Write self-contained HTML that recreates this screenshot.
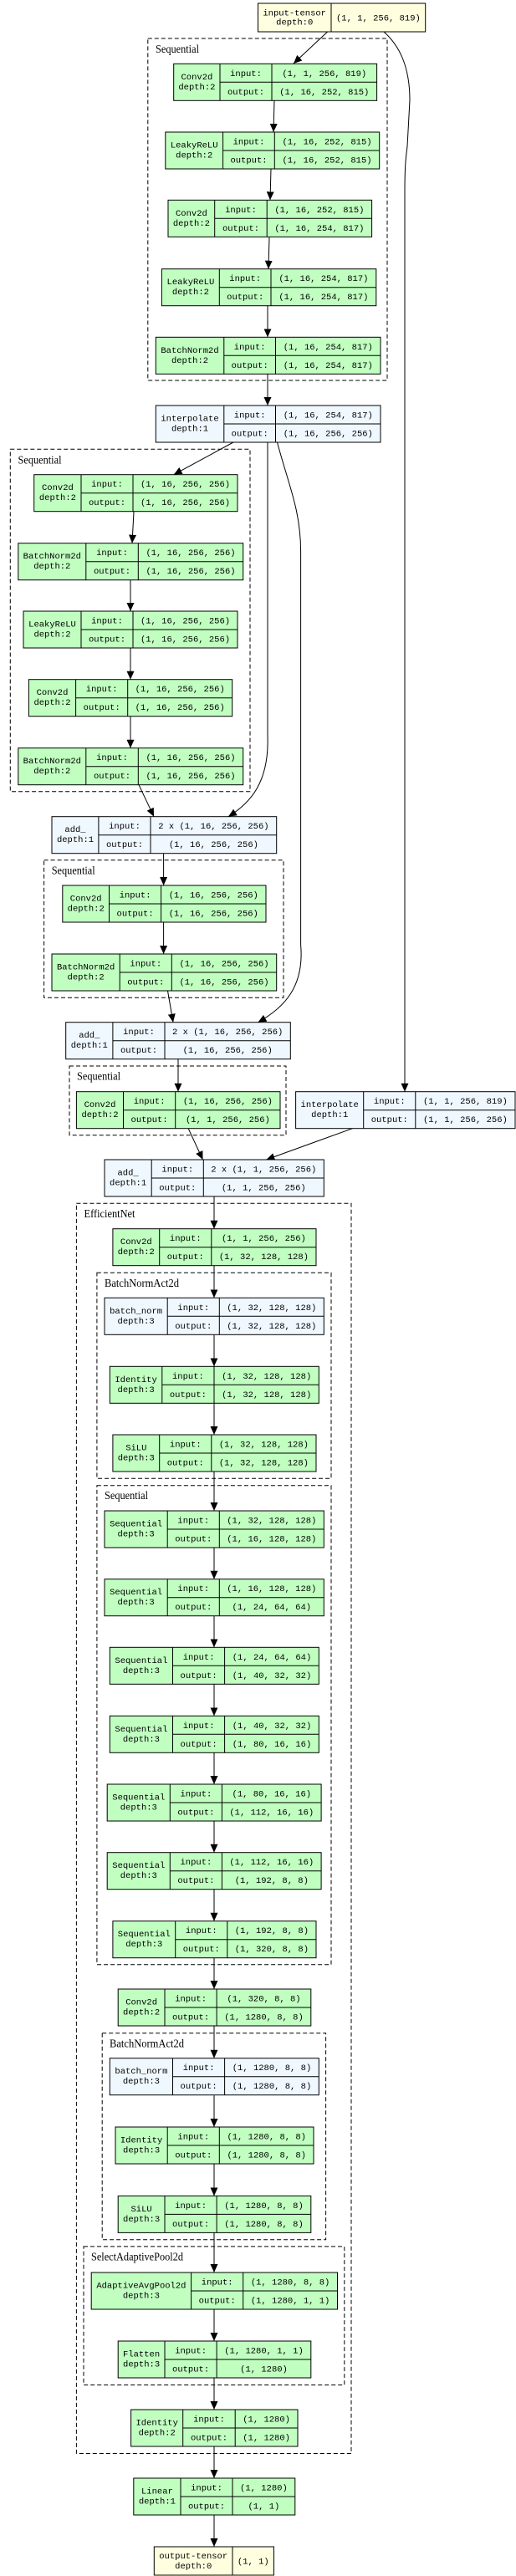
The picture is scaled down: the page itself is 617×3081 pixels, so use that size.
<!DOCTYPE html>
<html><head><meta charset="utf-8"><style>
html,body{margin:0;padding:0;background:#fff}
svg{display:block}
.t{font-family:"Liberation Mono",monospace;font-size:10.5px;text-anchor:middle;fill:#000}
.c{font-family:"Liberation Serif",serif;font-size:14px;fill:#000}
.cl{fill:none;stroke:#000;stroke-dasharray:5,3;stroke-width:1}
.g{fill:#c1ffc1;stroke:#000}
.b{fill:#f0f8ff;stroke:#000}
.y{fill:#ffffe0;stroke:#000}
.l{stroke:#000;stroke-width:1}
.e{stroke:#000;stroke-width:1;fill:none;marker-end:url(#a)}
</style></head><body>
<svg width="617" height="3081" viewBox="0 0 617 3081" xmlns="http://www.w3.org/2000/svg">
<defs><marker id="a" markerWidth="10" markerHeight="10" refX="10" refY="4.5" orient="auto" markerUnits="userSpaceOnUse"><path d="M0,0L10,4.5L0,9z" fill="#000"/></marker></defs>

<!-- clusters -->
<rect class="cl" x="176.8" y="46" width="286.2" height="409"/><text class="c" x="186" y="63" textLength="52" lengthAdjust="spacingAndGlyphs">Sequential</text>
<rect class="cl" x="12.3" y="537.3" width="286.7" height="409.4"/><text class="c" x="21.5" y="554.5" textLength="52" lengthAdjust="spacingAndGlyphs">Sequential</text>
<rect class="cl" x="52.6" y="1028.7" width="286.4" height="164.6"/><text class="c" x="61.7" y="1045.5" textLength="52" lengthAdjust="spacingAndGlyphs">Sequential</text>
<rect class="cl" x="83" y="1275" width="259" height="82.7"/><text class="c" x="92" y="1291.5" textLength="52" lengthAdjust="spacingAndGlyphs">Sequential</text>
<rect class="cl" x="91.4" y="1439.3" width="328.6" height="1495.2"/><text class="c" x="100.5" y="1456" textLength="61" lengthAdjust="spacingAndGlyphs">EfficientNet</text>
<rect class="cl" x="115.9" y="1522.3" width="280.1" height="246"/><text class="c" x="125" y="1539" textLength="89" lengthAdjust="spacingAndGlyphs">BatchNormAct2d</text>
<rect class="cl" x="115.9" y="1776.7" width="280.1" height="573"/><text class="c" x="125" y="1793" textLength="52" lengthAdjust="spacingAndGlyphs">Sequential</text>
<rect class="cl" x="122.2" y="2431.7" width="267.4" height="247.1"/><text class="c" x="131" y="2448.5" textLength="89" lengthAdjust="spacingAndGlyphs">BatchNormAct2d</text>
<rect class="cl" x="100" y="2686.9" width="311.8" height="165.6"/><text class="c" x="109" y="2703.5" textLength="110" lengthAdjust="spacingAndGlyphs">SelectAdaptivePool2d</text>

<!-- edges -->
<path class="e" d="M391.6,38 L351,76"/>
<path class="e" d="M459,38 C478,55 490,80 490,120 L487,175 C485,190 484,200 484,230 L484,1305.7"/>
<path class="e" d="M328,120.3 L327,158"/>
<path class="e" d="M324,202 L323,239.3"/>
<path class="e" d="M322,284 L321,321.7"/>
<path class="e" d="M320,365.3 L320,403.3"/>
<path class="e" d="M320,447 L320,485"/>
<path class="e" d="M279,529 L207.7,567.7"/>
<path class="e" d="M160,612 L158,649.7"/>
<path class="e" d="M156,693.3 L156,731"/>
<path class="e" d="M156,775.3 L156,812.7"/>
<path class="e" d="M156,857 L156,894.7"/>
<path class="e" d="M166,938.7 L184,976.7"/>
<path class="e" d="M320,529 L320,880 C322,935 300,960 273,976.7"/>
<path class="e" d="M331.5,529 C345,580 359.6,610 359.6,660 L359.6,1130 C364,1180 340,1205 308.5,1222.7"/>
<path class="e" d="M195.6,1020.3 L195.6,1059"/>
<path class="e" d="M195.6,1103.3 L195.6,1141"/>
<path class="e" d="M200.5,1185 L207,1222.7"/>
<path class="e" d="M213,1266.3 L213,1305.7"/>
<path class="e" d="M225,1349.3 L242.5,1387"/>
<path class="e" d="M422.5,1349.3 L318.4,1387"/>
<path class="e" d="M256,1431 V1469.7"/>
<path class="e" d="M256,1514 V1552.3"/>
<path class="e" d="M256,1596.7 V1634.3"/>
<path class="e" d="M256,1678.3 V1716"/>
<path class="e" d="M256,1760 V1807"/>
<path class="e" d="M256,1851 V1888.7"/>
<path class="e" d="M256,1933 V1970.3"/>
<path class="e" d="M256,2014.3 V2052.3"/>
<path class="e" d="M256,2096.3 V2134"/>
<path class="e" d="M256,2178.3 V2215.7"/>
<path class="e" d="M256,2260 V2297.7"/>
<path class="e" d="M256,2341.3 V2379"/>
<path class="e" d="M256,2423.3 V2461.7"/>
<path class="e" d="M256,2506.2 V2544"/>
<path class="e" d="M256,2588.2 V2626.4"/>
<path class="e" d="M256,2670.3 V2718"/>
<path class="e" d="M256,2762 V2800"/>
<path class="e" d="M256,2844 V2882"/>
<path class="e" d="M256,2926.5 V2964"/>
<path class="e" d="M256,3008.5 V3046"/>

<!-- 1 input-tensor -->
<rect class="y" x="308.5" y="4" width="200.2" height="34"/><line class="l" x1="396" y1="4" x2="396" y2="38"/>
<text class="t" x="352.2" y="18.5">input-tensor</text><text class="t" x="352.2" y="29.5">depth:0</text><text class="t" x="452.4" y="24.5">(1, 1, 256, 819)</text>

<!-- 2 -->
<rect class="g" x="207.7" y="76.3" width="242.9" height="44"/><line class="l" x1="263" y1="76.3" x2="263" y2="120.3"/><line class="l" x1="325" y1="76.3" x2="325" y2="120.3"/><line class="l" x1="263" y1="98.3" x2="450.6" y2="98.3"/>
<text class="t" x="235.4" y="94.8">Conv2d</text><text class="t" x="235.4" y="106.8">depth:2</text><text class="t" x="294" y="90.8">input:</text><text class="t" x="294" y="112.8">output:</text><text class="t" x="387.8" y="90.8">(1, 1, 256, 819)</text><text class="t" x="387.8" y="112.8">(1, 16, 252, 815)</text>
<!-- 3 -->
<rect class="g" x="197.8" y="158" width="255.9" height="44"/><line class="l" x1="266.6" y1="158" x2="266.6" y2="202"/><line class="l" x1="328.3" y1="158" x2="328.3" y2="202"/><line class="l" x1="266.6" y1="180" x2="453.7" y2="180"/>
<text class="t" x="232.2" y="176.5">LeakyReLU</text><text class="t" x="232.2" y="188.5">depth:2</text><text class="t" x="297.5" y="172.5">input:</text><text class="t" x="297.5" y="194.5">output:</text><text class="t" x="391" y="172.5">(1, 16, 252, 815)</text><text class="t" x="391" y="194.5">(1, 16, 252, 815)</text>
<!-- 4 -->
<rect class="g" x="201" y="239.3" width="243.6" height="44"/><line class="l" x1="256.7" y1="239.3" x2="256.7" y2="283.3"/><line class="l" x1="319.2" y1="239.3" x2="319.2" y2="283.3"/><line class="l" x1="256.7" y1="261.3" x2="444.6" y2="261.3"/>
<text class="t" x="228.9" y="257.8">Conv2d</text><text class="t" x="228.9" y="269.8">depth:2</text><text class="t" x="288" y="253.8">input:</text><text class="t" x="288" y="275.8">output:</text><text class="t" x="381.9" y="253.8">(1, 16, 252, 815)</text><text class="t" x="381.9" y="275.8">(1, 16, 254, 817)</text>
<!-- 5 -->
<rect class="g" x="193.4" y="321.7" width="256.4" height="44"/><line class="l" x1="262.3" y1="321.7" x2="262.3" y2="365.7"/><line class="l" x1="324" y1="321.7" x2="324" y2="365.7"/><line class="l" x1="262.3" y1="343.7" x2="449.8" y2="343.7"/>
<text class="t" x="227.9" y="340.2">LeakyReLU</text><text class="t" x="227.9" y="352.2">depth:2</text><text class="t" x="293.2" y="336.2">input:</text><text class="t" x="293.2" y="358.2">output:</text><text class="t" x="386.9" y="336.2">(1, 16, 254, 817)</text><text class="t" x="386.9" y="358.2">(1, 16, 254, 817)</text>
<!-- 6 -->
<rect class="g" x="186.3" y="403.3" width="268.7" height="44"/><line class="l" x1="267.8" y1="403.3" x2="267.8" y2="447.3"/><line class="l" x1="329.5" y1="403.3" x2="329.5" y2="447.3"/><line class="l" x1="267.8" y1="425.3" x2="455" y2="425.3"/>
<text class="t" x="227" y="421.8">BatchNorm2d</text><text class="t" x="227" y="433.8">depth:2</text><text class="t" x="298.7" y="417.8">input:</text><text class="t" x="298.7" y="439.8">output:</text><text class="t" x="392.3" y="417.8">(1, 16, 254, 817)</text><text class="t" x="392.3" y="439.8">(1, 16, 254, 817)</text>
<!-- 7 interpolate -->
<rect class="b" x="186.3" y="485" width="268.7" height="44"/><line class="l" x1="267.8" y1="485" x2="267.8" y2="529"/><line class="l" x1="329.5" y1="485" x2="329.5" y2="529"/><line class="l" x1="267.8" y1="507" x2="455" y2="507"/>
<text class="t" x="227" y="503.5">interpolate</text><text class="t" x="227" y="515.5">depth:1</text><text class="t" x="298.7" y="499.5">input:</text><text class="t" x="298.7" y="521.5">output:</text><text class="t" x="392.3" y="499.5">(1, 16, 254, 817)</text><text class="t" x="392.3" y="521.5">(1, 16, 256, 256)</text>
<!-- 8 -->
<rect class="g" x="40.7" y="567.7" width="243.3" height="44"/><line class="l" x1="97" y1="567.7" x2="97" y2="611.7"/><line class="l" x1="159" y1="567.7" x2="159" y2="611.7"/><line class="l" x1="97" y1="589.7" x2="284" y2="589.7"/>
<text class="t" x="68.9" y="586.2">Conv2d</text><text class="t" x="68.9" y="598.2">depth:2</text><text class="t" x="128" y="582.2">input:</text><text class="t" x="128" y="604.2">output:</text><text class="t" x="221.5" y="582.2">(1, 16, 256, 256)</text><text class="t" x="221.5" y="604.2">(1, 16, 256, 256)</text>
<!-- 9 -->
<rect class="g" x="21.8" y="649.7" width="268.9" height="44"/><line class="l" x1="102.8" y1="649.7" x2="102.8" y2="693.7"/><line class="l" x1="165.3" y1="649.7" x2="165.3" y2="693.7"/><line class="l" x1="102.8" y1="671.7" x2="290.7" y2="671.7"/>
<text class="t" x="62.3" y="668.2">BatchNorm2d</text><text class="t" x="62.3" y="680.2">depth:2</text><text class="t" x="134" y="664.2">input:</text><text class="t" x="134" y="686.2">output:</text><text class="t" x="228" y="664.2">(1, 16, 256, 256)</text><text class="t" x="228" y="686.2">(1, 16, 256, 256)</text>
<!-- 10 -->
<rect class="g" x="28" y="731" width="256" height="44"/><line class="l" x1="97" y1="731" x2="97" y2="775"/><line class="l" x1="159" y1="731" x2="159" y2="775"/><line class="l" x1="97" y1="753" x2="284" y2="753"/>
<text class="t" x="62.5" y="749.5">LeakyReLU</text><text class="t" x="62.5" y="761.5">depth:2</text><text class="t" x="128" y="745.5">input:</text><text class="t" x="128" y="767.5">output:</text><text class="t" x="221.5" y="745.5">(1, 16, 256, 256)</text><text class="t" x="221.5" y="767.5">(1, 16, 256, 256)</text>
<!-- 11 -->
<rect class="g" x="34.4" y="812.7" width="243.3" height="44"/><line class="l" x1="90.6" y1="812.7" x2="90.6" y2="856.7"/><line class="l" x1="152.7" y1="812.7" x2="152.7" y2="856.7"/><line class="l" x1="90.6" y1="834.7" x2="277.7" y2="834.7"/>
<text class="t" x="62.5" y="831.2">Conv2d</text><text class="t" x="62.5" y="843.2">depth:2</text><text class="t" x="121.7" y="827.2">input:</text><text class="t" x="121.7" y="849.2">output:</text><text class="t" x="215.2" y="827.2">(1, 16, 256, 256)</text><text class="t" x="215.2" y="849.2">(1, 16, 256, 256)</text>
<!-- 12 -->
<rect class="g" x="21.8" y="894.7" width="268.9" height="44"/><line class="l" x1="102.8" y1="894.7" x2="102.8" y2="938.7"/><line class="l" x1="165.3" y1="894.7" x2="165.3" y2="938.7"/><line class="l" x1="102.8" y1="916.7" x2="290.7" y2="916.7"/>
<text class="t" x="62.3" y="913.2">BatchNorm2d</text><text class="t" x="62.3" y="925.2">depth:2</text><text class="t" x="134" y="909.2">input:</text><text class="t" x="134" y="931.2">output:</text><text class="t" x="228" y="909.2">(1, 16, 256, 256)</text><text class="t" x="228" y="931.2">(1, 16, 256, 256)</text>
<!-- 13 add_ -->
<rect class="b" x="62" y="976.7" width="268.7" height="44"/><line class="l" x1="117.9" y1="976.7" x2="117.9" y2="1020.7"/><line class="l" x1="180" y1="976.7" x2="180" y2="1020.7"/><line class="l" x1="117.9" y1="998.7" x2="330.7" y2="998.7"/>
<text class="t" x="90" y="995.2">add_</text><text class="t" x="90" y="1007.2">depth:1</text><text class="t" x="149" y="991.2">input:</text><text class="t" x="149" y="1013.2">output:</text><text class="t" x="255.4" y="991.2">2 x (1, 16, 256, 256)</text><text class="t" x="255.4" y="1013.2">(1, 16, 256, 256)</text>
<!-- 14 -->
<rect class="g" x="74.8" y="1059" width="243.2" height="44"/><line class="l" x1="130.5" y1="1059" x2="130.5" y2="1103"/><line class="l" x1="192.6" y1="1059" x2="192.6" y2="1103"/><line class="l" x1="130.5" y1="1081" x2="318" y2="1081"/>
<text class="t" x="102.7" y="1077.5">Conv2d</text><text class="t" x="102.7" y="1089.5">depth:2</text><text class="t" x="161.6" y="1073.5">input:</text><text class="t" x="161.6" y="1095.5">output:</text><text class="t" x="255.3" y="1073.5">(1, 16, 256, 256)</text><text class="t" x="255.3" y="1095.5">(1, 16, 256, 256)</text>
<!-- 15 -->
<rect class="g" x="62" y="1141" width="268.7" height="44"/><line class="l" x1="143.2" y1="1141" x2="143.2" y2="1185"/><line class="l" x1="205.3" y1="1141" x2="205.3" y2="1185"/><line class="l" x1="143.2" y1="1163" x2="330.7" y2="1163"/>
<text class="t" x="102.6" y="1159.5">BatchNorm2d</text><text class="t" x="102.6" y="1171.5">depth:2</text><text class="t" x="174.3" y="1155.5">input:</text><text class="t" x="174.3" y="1177.5">output:</text><text class="t" x="268" y="1155.5">(1, 16, 256, 256)</text><text class="t" x="268" y="1177.5">(1, 16, 256, 256)</text>
<!-- 16 add_ -->
<rect class="b" x="78.7" y="1222.7" width="268.6" height="44"/><line class="l" x1="134.9" y1="1222.7" x2="134.9" y2="1266.7"/><line class="l" x1="197" y1="1222.7" x2="197" y2="1266.7"/><line class="l" x1="134.9" y1="1244.7" x2="347.3" y2="1244.7"/>
<text class="t" x="106.8" y="1241.2">add_</text><text class="t" x="106.8" y="1253.2">depth:1</text><text class="t" x="166" y="1237.2">input:</text><text class="t" x="166" y="1259.2">output:</text><text class="t" x="272.2" y="1237.2">2 x (1, 16, 256, 256)</text><text class="t" x="272.2" y="1259.2">(1, 16, 256, 256)</text>
<!-- 17 -->
<rect class="g" x="91.4" y="1305.7" width="243.6" height="44"/><line class="l" x1="147.5" y1="1305.7" x2="147.5" y2="1349.7"/><line class="l" x1="209.7" y1="1305.7" x2="209.7" y2="1349.7"/><line class="l" x1="147.5" y1="1327.7" x2="335" y2="1327.7"/>
<text class="t" x="119.5" y="1324.2">Conv2d</text><text class="t" x="119.5" y="1336.2">depth:2</text><text class="t" x="178.6" y="1320.2">input:</text><text class="t" x="178.6" y="1342.2">output:</text><text class="t" x="272.4" y="1320.2">(1, 16, 256, 256)</text><text class="t" x="272.4" y="1342.2">(1, 1, 256, 256)</text>
<!-- 18 interpolate -->
<rect class="b" x="353.6" y="1305.7" width="262.4" height="44"/><line class="l" x1="434.7" y1="1305.7" x2="434.7" y2="1349.7"/><line class="l" x1="496.8" y1="1305.7" x2="496.8" y2="1349.7"/><line class="l" x1="434.7" y1="1327.7" x2="616" y2="1327.7"/>
<text class="t" x="394.2" y="1324.2">interpolate</text><text class="t" x="394.2" y="1336.2">depth:1</text><text class="t" x="465.8" y="1320.2">input:</text><text class="t" x="465.8" y="1342.2">output:</text><text class="t" x="556.4" y="1320.2">(1, 1, 256, 819)</text><text class="t" x="556.4" y="1342.2">(1, 1, 256, 256)</text>
<!-- 19 add_ -->
<rect class="b" x="125" y="1387" width="262.3" height="44"/><line class="l" x1="181.2" y1="1387" x2="181.2" y2="1431"/><line class="l" x1="243.3" y1="1387" x2="243.3" y2="1431"/><line class="l" x1="181.2" y1="1409" x2="387.3" y2="1409"/>
<text class="t" x="153.1" y="1405.5">add_</text><text class="t" x="153.1" y="1417.5">depth:1</text><text class="t" x="212.3" y="1401.5">input:</text><text class="t" x="212.3" y="1423.5">output:</text><text class="t" x="315.3" y="1401.5">2 x (1, 1, 256, 256)</text><text class="t" x="315.3" y="1423.5">(1, 1, 256, 256)</text>
<!-- 20 -->
<rect class="g" x="134.9" y="1469.7" width="243.1" height="44"/><line class="l" x1="190.7" y1="1469.7" x2="190.7" y2="1513.7"/><line class="l" x1="252.8" y1="1469.7" x2="252.8" y2="1513.7"/><line class="l" x1="190.7" y1="1491.7" x2="378" y2="1491.7"/>
<text class="t" x="162.8" y="1488.2">Conv2d</text><text class="t" x="162.8" y="1500.2">depth:2</text><text class="t" x="221.8" y="1484.2">input:</text><text class="t" x="221.8" y="1506.2">output:</text><text class="t" x="315.4" y="1484.2">(1, 1, 256, 256)</text><text class="t" x="315.4" y="1506.2">(1, 32, 128, 128)</text>
<!-- 21 batch_norm -->
<rect class="b" x="125" y="1552.3" width="262.3" height="44"/><line class="l" x1="200.2" y1="1552.3" x2="200.2" y2="1596.3"/><line class="l" x1="262.3" y1="1552.3" x2="262.3" y2="1596.3"/><line class="l" x1="200.2" y1="1574.3" x2="387.3" y2="1574.3"/>
<text class="t" x="162.6" y="1570.8">batch_norm</text><text class="t" x="162.6" y="1582.8">depth:3</text><text class="t" x="231.3" y="1566.8">input:</text><text class="t" x="231.3" y="1588.8">output:</text><text class="t" x="324.8" y="1566.8">(1, 32, 128, 128)</text><text class="t" x="324.8" y="1588.8">(1, 32, 128, 128)</text>
<!-- 22 Identity -->
<rect class="g" x="131.3" y="1634.3" width="250" height="44"/><line class="l" x1="193.8" y1="1634.3" x2="193.8" y2="1678.3"/><line class="l" x1="256" y1="1634.3" x2="256" y2="1678.3"/><line class="l" x1="193.8" y1="1656.3" x2="381.3" y2="1656.3"/>
<text class="t" x="162.6" y="1652.8">Identity</text><text class="t" x="162.6" y="1664.8">depth:3</text><text class="t" x="224.9" y="1648.8">input:</text><text class="t" x="224.9" y="1670.8">output:</text><text class="t" x="318.7" y="1648.8">(1, 32, 128, 128)</text><text class="t" x="318.7" y="1670.8">(1, 32, 128, 128)</text>
<!-- 23 SiLU -->
<rect class="g" x="134.9" y="1716" width="243.1" height="44"/><line class="l" x1="190.7" y1="1716" x2="190.7" y2="1760"/><line class="l" x1="252.8" y1="1716" x2="252.8" y2="1760"/><line class="l" x1="190.7" y1="1738" x2="378" y2="1738"/>
<text class="t" x="162.8" y="1734.5">SiLU</text><text class="t" x="162.8" y="1746.5">depth:3</text><text class="t" x="221.8" y="1730.5">input:</text><text class="t" x="221.8" y="1752.5">output:</text><text class="t" x="315.4" y="1730.5">(1, 32, 128, 128)</text><text class="t" x="315.4" y="1752.5">(1, 32, 128, 128)</text>
<!-- 24 -->
<rect class="g" x="125" y="1807" width="262.3" height="44"/><line class="l" x1="200.2" y1="1807" x2="200.2" y2="1851"/><line class="l" x1="262.3" y1="1807" x2="262.3" y2="1851"/><line class="l" x1="200.2" y1="1829" x2="387.3" y2="1829"/>
<text class="t" x="162.6" y="1825.5">Sequential</text><text class="t" x="162.6" y="1837.5">depth:3</text><text class="t" x="231.3" y="1821.5">input:</text><text class="t" x="231.3" y="1843.5">output:</text><text class="t" x="324.8" y="1821.5">(1, 32, 128, 128)</text><text class="t" x="324.8" y="1843.5">(1, 16, 128, 128)</text>
<!-- 25 -->
<rect class="g" x="125" y="1888.7" width="262.3" height="44"/><line class="l" x1="200.2" y1="1888.7" x2="200.2" y2="1932.7"/><line class="l" x1="262.3" y1="1888.7" x2="262.3" y2="1932.7"/><line class="l" x1="200.2" y1="1910.7" x2="387.3" y2="1910.7"/>
<text class="t" x="162.6" y="1907.2">Sequential</text><text class="t" x="162.6" y="1919.2">depth:3</text><text class="t" x="231.3" y="1903.2">input:</text><text class="t" x="231.3" y="1925.2">output:</text><text class="t" x="324.8" y="1903.2">(1, 16, 128, 128)</text><text class="t" x="324.8" y="1925.2">(1, 24, 64, 64)</text>
<!-- 26 -->
<rect class="g" x="131.3" y="1970.3" width="250" height="44"/><line class="l" x1="206.5" y1="1970.3" x2="206.5" y2="2014.3"/><line class="l" x1="268.6" y1="1970.3" x2="268.6" y2="2014.3"/><line class="l" x1="206.5" y1="1992.3" x2="381.3" y2="1992.3"/>
<text class="t" x="168.9" y="1988.8">Sequential</text><text class="t" x="168.9" y="2000.8">depth:3</text><text class="t" x="237.6" y="1984.8">input:</text><text class="t" x="237.6" y="2006.8">output:</text><text class="t" x="325" y="1984.8">(1, 24, 64, 64)</text><text class="t" x="325" y="2006.8">(1, 40, 32, 32)</text>
<!-- 27 -->
<rect class="g" x="131.3" y="2052.3" width="250" height="44"/><line class="l" x1="206.5" y1="2052.3" x2="206.5" y2="2096.3"/><line class="l" x1="268.6" y1="2052.3" x2="268.6" y2="2096.3"/><line class="l" x1="206.5" y1="2074.3" x2="381.3" y2="2074.3"/>
<text class="t" x="168.9" y="2070.8">Sequential</text><text class="t" x="168.9" y="2082.8">depth:3</text><text class="t" x="237.6" y="2066.8">input:</text><text class="t" x="237.6" y="2088.8">output:</text><text class="t" x="325" y="2066.8">(1, 40, 32, 32)</text><text class="t" x="325" y="2088.8">(1, 80, 16, 16)</text>
<!-- 28 -->
<rect class="g" x="128.2" y="2134" width="255.9" height="44"/><line class="l" x1="203.3" y1="2134" x2="203.3" y2="2178"/><line class="l" x1="265.4" y1="2134" x2="265.4" y2="2178"/><line class="l" x1="203.3" y1="2156" x2="384.1" y2="2156"/>
<text class="t" x="165.8" y="2152.5">Sequential</text><text class="t" x="165.8" y="2164.5">depth:3</text><text class="t" x="234.4" y="2148.5">input:</text><text class="t" x="234.4" y="2170.5">output:</text><text class="t" x="324.8" y="2148.5">(1, 80, 16, 16)</text><text class="t" x="324.8" y="2170.5">(1, 112, 16, 16)</text>
<!-- 29 -->
<rect class="g" x="128.2" y="2215.7" width="255.9" height="44"/><line class="l" x1="203.3" y1="2215.7" x2="203.3" y2="2259.7"/><line class="l" x1="265.4" y1="2215.7" x2="265.4" y2="2259.7"/><line class="l" x1="203.3" y1="2237.7" x2="384.1" y2="2237.7"/>
<text class="t" x="165.8" y="2234.2">Sequential</text><text class="t" x="165.8" y="2246.2">depth:3</text><text class="t" x="234.4" y="2230.2">input:</text><text class="t" x="234.4" y="2252.2">output:</text><text class="t" x="324.8" y="2230.2">(1, 112, 16, 16)</text><text class="t" x="324.8" y="2252.2">(1, 192, 8, 8)</text>
<!-- 30 -->
<rect class="g" x="134.9" y="2297.7" width="243.1" height="44"/><line class="l" x1="209.7" y1="2297.7" x2="209.7" y2="2341.7"/><line class="l" x1="271.8" y1="2297.7" x2="271.8" y2="2341.7"/><line class="l" x1="209.7" y1="2319.7" x2="378" y2="2319.7"/>
<text class="t" x="172.3" y="2316.2">Sequential</text><text class="t" x="172.3" y="2328.2">depth:3</text><text class="t" x="240.8" y="2312.2">input:</text><text class="t" x="240.8" y="2334.2">output:</text><text class="t" x="324.9" y="2312.2">(1, 192, 8, 8)</text><text class="t" x="324.9" y="2334.2">(1, 320, 8, 8)</text>
<!-- 31 -->
<rect class="g" x="141.2" y="2379" width="230.6" height="44"/><line class="l" x1="197" y1="2379" x2="197" y2="2423"/><line class="l" x1="259.1" y1="2379" x2="259.1" y2="2423"/><line class="l" x1="197" y1="2401" x2="371.8" y2="2401"/>
<text class="t" x="169.1" y="2397.5">Conv2d</text><text class="t" x="169.1" y="2409.5">depth:2</text><text class="t" x="228.1" y="2393.5">input:</text><text class="t" x="228.1" y="2415.5">output:</text><text class="t" x="315.5" y="2393.5">(1, 320, 8, 8)</text><text class="t" x="315.5" y="2415.5">(1, 1280, 8, 8)</text>
<!-- 32 batch_norm -->
<rect class="b" x="131.3" y="2461.7" width="250" height="44"/><line class="l" x1="206.5" y1="2461.7" x2="206.5" y2="2505.7"/><line class="l" x1="268.6" y1="2461.7" x2="268.6" y2="2505.7"/><line class="l" x1="206.5" y1="2483.7" x2="381.3" y2="2483.7"/>
<text class="t" x="168.9" y="2480.2">batch_norm</text><text class="t" x="168.9" y="2492.2">depth:3</text><text class="t" x="237.6" y="2476.2">input:</text><text class="t" x="237.6" y="2498.2">output:</text><text class="t" x="325" y="2476.2">(1, 1280, 8, 8)</text><text class="t" x="325" y="2498.2">(1, 1280, 8, 8)</text>
<!-- 33 Identity -->
<rect class="g" x="138" y="2544" width="237" height="44"/><line class="l" x1="200.2" y1="2544" x2="200.2" y2="2588"/><line class="l" x1="262.3" y1="2544" x2="262.3" y2="2588"/><line class="l" x1="200.2" y1="2566" x2="375" y2="2566"/>
<text class="t" x="169.1" y="2562.5">Identity</text><text class="t" x="169.1" y="2574.5">depth:3</text><text class="t" x="231.3" y="2558.5">input:</text><text class="t" x="231.3" y="2580.5">output:</text><text class="t" x="318.7" y="2558.5">(1, 1280, 8, 8)</text><text class="t" x="318.7" y="2580.5">(1, 1280, 8, 8)</text>
<!-- 34 SiLU -->
<rect class="g" x="141.2" y="2626.4" width="230.6" height="44"/><line class="l" x1="197" y1="2626.4" x2="197" y2="2670.4"/><line class="l" x1="259.1" y1="2626.4" x2="259.1" y2="2670.4"/><line class="l" x1="197" y1="2648.4" x2="371.8" y2="2648.4"/>
<text class="t" x="169.1" y="2644.9">SiLU</text><text class="t" x="169.1" y="2656.9">depth:3</text><text class="t" x="228.1" y="2640.9">input:</text><text class="t" x="228.1" y="2662.9">output:</text><text class="t" x="315.5" y="2640.9">(1, 1280, 8, 8)</text><text class="t" x="315.5" y="2662.9">(1, 1280, 8, 8)</text>
<!-- 35 AdaptiveAvgPool2d -->
<rect class="g" x="109.2" y="2718" width="294.3" height="44"/><line class="l" x1="228.6" y1="2718" x2="228.6" y2="2762"/><line class="l" x1="290.7" y1="2718" x2="290.7" y2="2762"/><line class="l" x1="228.6" y1="2740" x2="403.5" y2="2740"/>
<text class="t" x="168.9" y="2736.5">AdaptiveAvgPool2d</text><text class="t" x="168.9" y="2748.5">depth:3</text><text class="t" x="259.7" y="2732.5">input:</text><text class="t" x="259.7" y="2754.5">output:</text><text class="t" x="347.1" y="2732.5">(1, 1280, 8, 8)</text><text class="t" x="347.1" y="2754.5">(1, 1280, 1, 1)</text>
<!-- 36 Flatten -->
<rect class="g" x="141.2" y="2800" width="230.6" height="44"/><line class="l" x1="197" y1="2800" x2="197" y2="2844"/><line class="l" x1="259.1" y1="2800" x2="259.1" y2="2844"/><line class="l" x1="197" y1="2822" x2="371.8" y2="2822"/>
<text class="t" x="169.1" y="2818.5">Flatten</text><text class="t" x="169.1" y="2830.5">depth:3</text><text class="t" x="228.1" y="2814.5">input:</text><text class="t" x="228.1" y="2836.5">output:</text><text class="t" x="315.5" y="2814.5">(1, 1280, 1, 1)</text><text class="t" x="315.5" y="2836.5">(1, 1280)</text>
<!-- 37 Identity depth2 -->
<rect class="g" x="156.6" y="2882" width="199.4" height="44"/><line class="l" x1="218.7" y1="2882" x2="218.7" y2="2926"/><line class="l" x1="281.2" y1="2882" x2="281.2" y2="2926"/><line class="l" x1="218.7" y1="2904" x2="356" y2="2904"/>
<text class="t" x="187.7" y="2900.5">Identity</text><text class="t" x="187.7" y="2912.5">depth:2</text><text class="t" x="250" y="2896.5">input:</text><text class="t" x="250" y="2918.5">output:</text><text class="t" x="318.6" y="2896.5">(1, 1280)</text><text class="t" x="318.6" y="2918.5">(1, 1280)</text>
<!-- 38 Linear -->
<rect class="g" x="159.8" y="2964" width="193" height="44"/><line class="l" x1="216" y1="2964" x2="216" y2="3008"/><line class="l" x1="278" y1="2964" x2="278" y2="3008"/><line class="l" x1="216" y1="2986" x2="352.8" y2="2986"/>
<text class="t" x="187.9" y="2982.5">Linear</text><text class="t" x="187.9" y="2994.5">depth:1</text><text class="t" x="247" y="2978.5">input:</text><text class="t" x="247" y="3000.5">output:</text><text class="t" x="315.4" y="2978.5">(1, 1280)</text><text class="t" x="315.4" y="3000.5">(1, 1)</text>
<!-- 39 output-tensor -->
<rect class="y" x="184.3" y="3046" width="143.2" height="34"/><line class="l" x1="278" y1="3046" x2="278" y2="3080"/>
<text class="t" x="231.2" y="3060">output-tensor</text><text class="t" x="231.2" y="3072">depth:0</text><text class="t" x="302.8" y="3066.5">(1, 1)</text>
</svg>
</body></html>
